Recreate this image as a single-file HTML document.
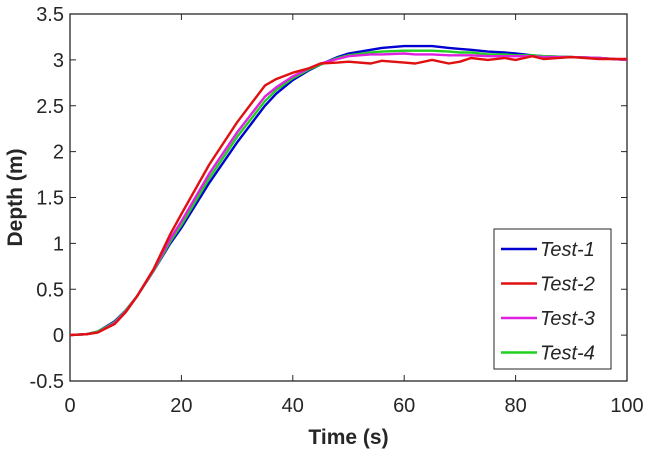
<!DOCTYPE html>
<html><head><meta charset="utf-8"><style>
body{margin:0;background:#fff;}
svg{display:block;font-family:"Liberation Sans",Arial,sans-serif;}
</style></head><body>
<svg id="chart" width="650" height="456"></svg>
<script>
const times=[0,3,5,8,10,12,15,18,20,25,30,35,37,40,43,45,48,50,54,56,60,62,65,68,70,72,75,78,80,83,85,90,95,100];
const test1=[0,0.01,0.04,0.15,0.27,0.42,0.7,1.0,1.17,1.66,2.1,2.5,2.63,2.78,2.89,2.95,3.03,3.07,3.11,3.13,3.15,3.15,3.15,3.13,3.12,3.11,3.09,3.08,3.07,3.05,3.04,3.03,3.02,3.0];
const test2=[0,0.01,0.03,0.12,0.25,0.42,0.72,1.1,1.32,1.86,2.32,2.72,2.79,2.86,2.91,2.96,2.97,2.98,2.96,2.99,2.97,2.96,3.0,2.96,2.98,3.02,3.0,3.02,3.0,3.04,3.01,3.03,3.01,3.01];
const test3=[0,0.01,0.03,0.13,0.26,0.42,0.71,1.05,1.24,1.76,2.21,2.6,2.7,2.82,2.91,2.96,3.01,3.04,3.06,3.06,3.07,3.06,3.06,3.05,3.05,3.05,3.04,3.04,3.04,3.04,3.03,3.03,3.02,3.0];
const test4=[0,0.01,0.04,0.14,0.27,0.42,0.7,1.02,1.2,1.71,2.16,2.55,2.67,2.8,2.9,2.95,3.02,3.05,3.08,3.09,3.1,3.1,3.1,3.09,3.08,3.08,3.06,3.06,3.05,3.05,3.04,3.03,3.02,3.0];
const xTicks=[0,20,40,60,80,100];
const yTicks=[-0.5,0,0.5,1,1.5,2,2.5,3,3.5];
const seriesNames=["Test-1","Test-2","Test-3","Test-4"];
const seriesColors=["#0000d0","#e01010","#e020e0","#20d020"];
const L=70,R=627,T=14,B=381;
const xs=v=>L+(v-0)/(100-0)*(R-L);
const ys=v=>B-(v+0.5)/4*(B-T);
const svg=document.getElementById('chart');
const NS="http://www.w3.org/2000/svg";
function mk(tag,attrs,parent){const e=document.createElementNS(NS,tag);for(const k in attrs)e.setAttribute(k,attrs[k]);(parent||svg).appendChild(e);return e;}
const frame=mk('rect',{x:L,y:T,width:R-L,height:B-T,fill:'none',stroke:'#262626','stroke-width':1.3});


xTicks.forEach(v=>{
  const x=xs(v);
  const t1=mk('line',{x1:x,x2:x,y1:B,y2:B-6,stroke:'#262626'});
  
  
  mk('line',{x1:x,x2:x,y1:T,y2:T+6,stroke:'#262626'});
  const tx=mk('text',{x:x,y:B+31,'text-anchor':'middle','font-size':20,fill:'#262626'});
  tx.textContent=v;
  
  
});
yTicks.forEach(v=>{
  const y=ys(v);
  const t1=mk('line',{x1:L,x2:L+6,y1:y,y2:y,stroke:'#262626'});
  
  
  mk('line',{x1:R,x2:R-6,y1:y,y2:y,stroke:'#262626'});
  const tx=mk('text',{x:L-6,y:y+7,'text-anchor':'end','font-size':20,fill:'#262626'});
  tx.textContent=v;
  
  
});
const xt=mk('text',{x:(L+R)/2,y:444,'text-anchor':'middle','font-size':21,'font-weight':'bold',fill:'#262626'});
xt.textContent='Time (s)';


const yt=mk('text',{x:0,y:0,'text-anchor':'middle','font-size':21,'font-weight':'bold',fill:'#262626',transform:'translate(22,'+((T+B)/2)+') rotate(-90)'});
yt.textContent='Depth (m)';


const data=[test1,test2,test3,test4];
const order=[0,3,2,1];
order.forEach(i=>{
  const d=times.map((t,k)=>(k?'L':'M')+xs(t).toFixed(1)+','+ys(data[i][k]).toFixed(1)).join('');
  const p=mk('path',{d:d,fill:'none',stroke:seriesColors[i],'stroke-width':2.4,'stroke-linejoin':'round'});
  
  
});
const lg=mk('g',{});


mk('rect',{x:494,y:229,width:117,height:140,fill:'#fff',stroke:'#262626','stroke-width':1},lg);
seriesNames.forEach((n,i)=>{
  const y=249+i*34.5;
  const g=mk('g',{},lg);
  
  
  mk('line',{x1:501,x2:537,y1:y,y2:y,stroke:seriesColors[i],'stroke-width':2.4},g);
  const t=mk('text',{x:540,y:y+7,'font-size':20,'font-style':'italic',fill:'#262626'},g);
  t.textContent=n;
});
</script>
</body></html>
